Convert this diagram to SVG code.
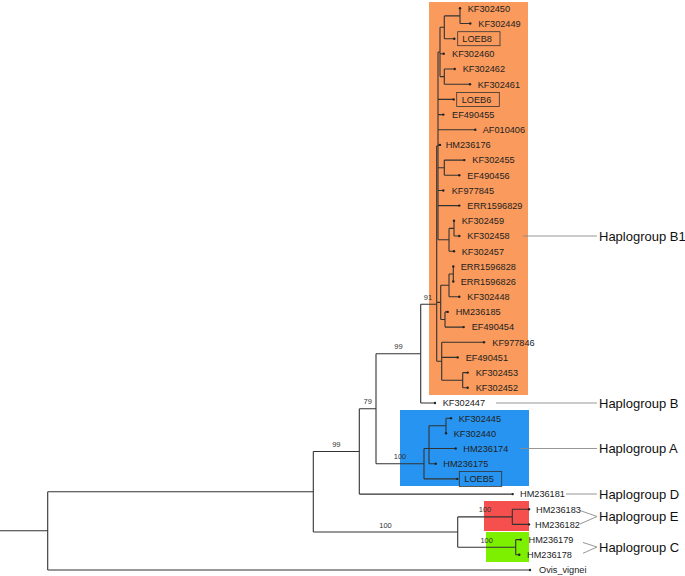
<svg xmlns="http://www.w3.org/2000/svg" width="685" height="576" viewBox="0 0 685 576">
<style>
.br{stroke:#333;stroke-width:1.1;fill:none}
.lf{font-family:"Liberation Sans",Arial,sans-serif;font-size:9.2px;fill:#222}
.bs{font-family:"Liberation Sans",Arial,sans-serif;font-size:7.5px;fill:#333;text-anchor:middle}
.hg{font-family:"Liberation Sans",Arial,sans-serif;font-size:13px;fill:#111}
.hl{stroke:#8a8a8a;stroke-width:0.9;fill:none}
.tip{fill:#222}
.bx{fill:none;stroke:#333;stroke-width:0.8}
</style>
<rect width="685" height="576" fill="#fff"/>
<g id="clade-backgrounds">
<rect id="bg-B1" x="429" y="2" width="99" height="393" fill="#FA9A5C"/>
<rect id="bg-A" x="400" y="410" width="129" height="76" fill="#2694F0"/>
<rect id="bg-E" x="484" y="501" width="45" height="30" fill="#F5504E"/>
<rect id="bg-C" x="486" y="532" width="43" height="30" fill="#7DF000"/>
</g>
<g id="connectors">
<path class="br" d="M0,530.7H47.7M47.7,491.7V570M47.7,491.7H313.3M47.7,570H530"/>
<path class="br" d="M313.3,451.5V532M313.3,451.5H359.3M313.3,532H457.7"/>
<path class="br" d="M359.3,408.7V494.1M359.3,408.7H376M359.3,494.1H512.7"/>
<path class="br" d="M376,353.7V463.7M376,353.7H420.7M376,463.7H424"/>
<path class="br" d="M420.7,304.3V403M420.7,304.3H436.7M420.7,403H435"/>
<path class="br" d="M436.7,145.9V361.2M436.7,145.9H438M436.7,302.4H440.7M436.7,361.2H441.7"/>
<path class="br" d="M438,52V239.8M438,52H440M438,99.4H453.7M438,114.6H443.3M438,129.7H475.3M438,144.9H440M438,167.7H444.3M438,190.5H443.3M438,205.6H459.3M438,239.8H449"/>
<path class="br" d="M440,27.3V76.6M440,27.3H444.3M440,53.8H443.7M440,76.6H444.3"/>
<path class="br" d="M444.3,15.9V38.7M444.3,15.9H460M444.3,38.7H454.3"/>
<path class="br" d="M460,8.3V23.5M460,23.5H470.3"/>
<path class="br" d="M444.3,69V84.2M444.3,69H454.7M444.3,84.2H470"/>
<path class="br" d="M444.3,160.1V175.3M444.3,160.1H464.3M444.3,175.3H459.3"/>
<path class="br" d="M449,228.4V251.2M449,228.4H454M449,251.2H454"/>
<path class="br" d="M454,220.8V236M454,236H459.3"/>
<path class="br" d="M440.7,285.3V319.5M440.7,285.3H449M440.7,319.5H445"/>
<path class="br" d="M449,274V296.7M449,274H453.3M449,296.7H459.3"/>
<path class="br" d="M453.3,266.4V281.5"/>
<path class="br" d="M445,311.9V327.1M445,311.9H447.7M445,327.1H463.7"/>
<path class="br" d="M441.7,342.3V380.2M441.7,342.3H484M441.7,357.4H457.7M441.7,380.2H462.7"/>
<path class="br" d="M462.7,372.6V387.8M462.7,372.6H467.7M462.7,387.8H467.7"/>
<path class="br" d="M424,448.5V478.9M424,448.5H429M424,478.9H457.3"/>
<path class="br" d="M429,425.8V463.7M429,425.8H446M429,448.5H455.7M429,463.7H435.7"/>
<path class="br" d="M446,418.2V433.3M446,418.2H451"/>
<path class="br" d="M457.7,516.9V547.2M457.7,516.9H512.3M457.7,547.2H515.7"/>
<path class="br" d="M512.3,509.3V524.4M512.3,509.3H529M512.3,524.4H529"/>
<path class="br" d="M515.7,539.6V554.8M515.7,539.6H520.7M515.7,554.8H519.3"/>
<path class="hl" d="M523,236H597M496,403H597M520,448.5H597M566,494H597M580,510.5L597,516.5M580,524L597,516.5M583,542.5L597,547M583,553.3L597,547"/>
</g>
<g id="support-values">
<text class="bs" x="336.3" y="447">99</text>
<text class="bs" x="367.7" y="404.4">79</text>
<text class="bs" x="398.4" y="349.3">99</text>
<text class="bs" x="428" y="300">91</text>
<text class="bs" x="400" y="459.3">100</text>
<text class="bs" x="385.5" y="527.5">100</text>
<text class="bs" x="485" y="512.4">100</text>
<text class="bs" x="486.7" y="542.7">100</text>
</g>
<g id="tips">
<circle class="tip" cx="460" cy="8.3" r="1.2"/><circle class="tip" cx="470.3" cy="23.5" r="1.2"/><circle class="tip" cx="454.3" cy="38.7" r="1.2"/><circle class="tip" cx="443.7" cy="53.8" r="1.2"/><circle class="tip" cx="454.7" cy="69" r="1.2"/><circle class="tip" cx="470" cy="84.2" r="1.2"/><circle class="tip" cx="453.7" cy="99.4" r="1.2"/><circle class="tip" cx="443.3" cy="114.6" r="1.2"/><circle class="tip" cx="475.3" cy="129.7" r="1.2"/><circle class="tip" cx="440" cy="144.9" r="1.2"/><circle class="tip" cx="464.3" cy="160.1" r="1.2"/><circle class="tip" cx="459.3" cy="175.3" r="1.2"/><circle class="tip" cx="443.3" cy="190.5" r="1.2"/><circle class="tip" cx="459.3" cy="205.6" r="1.2"/><circle class="tip" cx="454" cy="220.8" r="1.2"/><circle class="tip" cx="459.3" cy="236" r="1.2"/><circle class="tip" cx="454" cy="251.2" r="1.2"/><circle class="tip" cx="453.3" cy="266.4" r="1.2"/><circle class="tip" cx="453.3" cy="281.5" r="1.2"/><circle class="tip" cx="459.3" cy="296.7" r="1.2"/><circle class="tip" cx="447.7" cy="311.9" r="1.2"/><circle class="tip" cx="463.7" cy="327.1" r="1.2"/><circle class="tip" cx="484" cy="342.3" r="1.2"/><circle class="tip" cx="457.7" cy="357.4" r="1.2"/><circle class="tip" cx="467.7" cy="372.6" r="1.2"/><circle class="tip" cx="467.7" cy="387.8" r="1.2"/><circle class="tip" cx="435" cy="403" r="1.2"/><circle class="tip" cx="451" cy="418.2" r="1.2"/><circle class="tip" cx="446" cy="433.3" r="1.2"/><circle class="tip" cx="455.7" cy="448.5" r="1.2"/><circle class="tip" cx="435.7" cy="463.7" r="1.2"/><circle class="tip" cx="457.3" cy="478.9" r="1.2"/><circle class="tip" cx="512.7" cy="494.1" r="1.2"/><circle class="tip" cx="529" cy="509.3" r="1.2"/><circle class="tip" cx="529" cy="524.4" r="1.2"/><circle class="tip" cx="520.7" cy="539.6" r="1.2"/><circle class="tip" cx="519.3" cy="554.8" r="1.2"/><circle class="tip" cx="530" cy="570" r="1.2"/>
</g>
<g id="leaf-KF302450"><text class="lf" x="467.7" y="11.6">KF302450</text></g>
<g id="leaf-KF302449"><text class="lf" x="478.3" y="26.8">KF302449</text></g>
<g id="leaf-LOEB8"><rect class="bx" x="457.7" y="31.7" width="42.3" height="14"/><text class="lf" x="462.3" y="42">LOEB8</text></g>
<g id="leaf-KF302460"><text class="lf" x="452" y="57.1">KF302460</text></g>
<g id="leaf-KF302462"><text class="lf" x="462.7" y="72.3">KF302462</text></g>
<g id="leaf-KF302461"><text class="lf" x="477.7" y="87.5">KF302461</text></g>
<g id="leaf-LOEB6"><rect class="bx" x="456.7" y="92.4" width="42.6" height="14"/><text class="lf" x="461.7" y="102.7">LOEB6</text></g>
<g id="leaf-EF490455"><text class="lf" x="452" y="117.9">EF490455</text></g>
<g id="leaf-AF010406"><text class="lf" x="482.7" y="133">AF010406</text></g>
<g id="leaf-HM236176"><text class="lf" x="445.7" y="148.2">HM236176</text></g>
<g id="leaf-KF302455"><text class="lf" x="472.3" y="163.4">KF302455</text></g>
<g id="leaf-EF490456"><text class="lf" x="467.3" y="178.6">EF490456</text></g>
<g id="leaf-KF977845"><text class="lf" x="451.7" y="193.8">KF977845</text></g>
<g id="leaf-ERR1596829"><text class="lf" x="467.3" y="208.9">ERR1596829</text></g>
<g id="leaf-KF302459"><text class="lf" x="461.7" y="224.1">KF302459</text></g>
<g id="leaf-KF302458"><text class="lf" x="467.3" y="239.3">KF302458</text></g>
<g id="leaf-KF302457"><text class="lf" x="461.7" y="254.5">KF302457</text></g>
<g id="leaf-ERR1596828"><text class="lf" x="460.7" y="269.7">ERR1596828</text></g>
<g id="leaf-ERR1596826"><text class="lf" x="460.7" y="284.8">ERR1596826</text></g>
<g id="leaf-KF302448"><text class="lf" x="467.3" y="300">KF302448</text></g>
<g id="leaf-HM236185"><text class="lf" x="455.7" y="315.2">HM236185</text></g>
<g id="leaf-EF490454"><text class="lf" x="471.7" y="330.4">EF490454</text></g>
<g id="leaf-KF977846"><text class="lf" x="492.3" y="345.6">KF977846</text></g>
<g id="leaf-EF490451"><text class="lf" x="465.7" y="360.7">EF490451</text></g>
<g id="leaf-KF302453"><text class="lf" x="475.7" y="375.9">KF302453</text></g>
<g id="leaf-KF302452"><text class="lf" x="475.7" y="391.1">KF302452</text></g>
<g id="leaf-KF302447"><text class="lf" x="442.7" y="406.3">KF302447</text></g>
<g id="leaf-KF302445"><text class="lf" x="458.7" y="421.5">KF302445</text></g>
<g id="leaf-KF302440"><text class="lf" x="453.7" y="436.6">KF302440</text></g>
<g id="leaf-HM236174"><text class="lf" x="463.3" y="451.8">HM236174</text></g>
<g id="leaf-HM236175"><text class="lf" x="443.3" y="467">HM236175</text></g>
<g id="leaf-LOEB5"><rect class="bx" x="459.3" y="471.4" width="42.4" height="15"/><text class="lf" x="464.3" y="482.2">LOEB5</text></g>
<g id="leaf-HM236181"><text class="lf" x="520" y="497.4">HM236181</text></g>
<g id="leaf-HM236183"><text class="lf" x="536" y="512.6">HM236183</text></g>
<g id="leaf-HM236182"><text class="lf" x="535" y="527.7">HM236182</text></g>
<g id="leaf-HM236179"><text class="lf" x="528.5" y="542.9">HM236179</text></g>
<g id="leaf-HM236178"><text class="lf" x="527" y="558.1">HM236178</text></g>
<g id="leaf-Ovis_vignei"><text class="lf" x="539" y="573.3">Ovis_vignei</text></g>
<g id="hap-B1"><text class="hg" x="599" y="240.6">Haplogroup B1</text></g>
<g id="hap-B"><text class="hg" x="599" y="407.6">Haplogroup B</text></g>
<g id="hap-A"><text class="hg" x="599" y="453.3">Haplogroup A</text></g>
<g id="hap-D"><text class="hg" x="599" y="498.6">Haplogroup D</text></g>
<g id="hap-E"><text class="hg" x="599" y="521">Haplogroup E</text></g>
<g id="hap-C"><text class="hg" x="599" y="551.6">Haplogroup C</text></g>
</svg>
